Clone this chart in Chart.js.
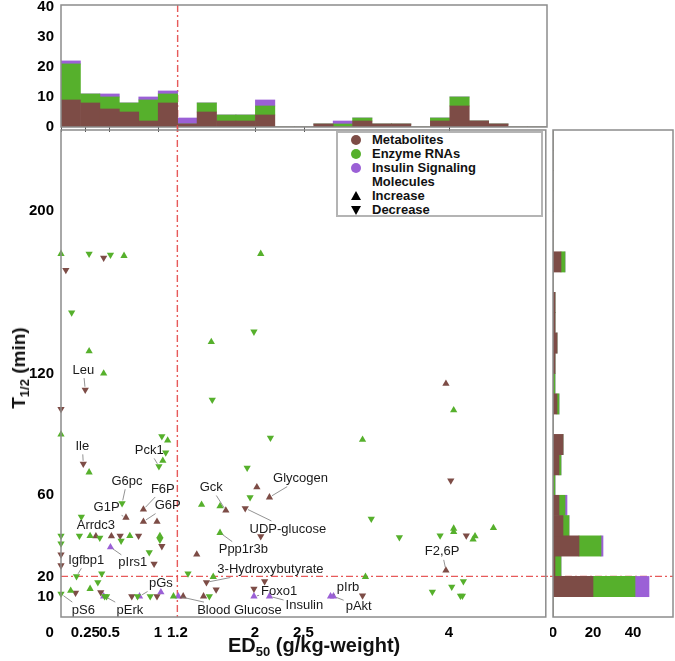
<!DOCTYPE html>
<html>
<head>
<meta charset="utf-8">
<script src="https://cdn.jsdelivr.net/npm/chart.js@4.4.1/dist/chart.umd.min.js"></script>
<style>
  html,body{margin:0;padding:0;background:#fff;}
  body{width:675px;height:661px;position:relative;overflow:hidden;font-family:"Liberation Sans",Arial,sans-serif;color:#111;}
  .pane{position:absolute;}
  #legend{position:absolute;left:336px;top:131px;width:207px;height:86px;box-sizing:border-box;border:2px solid #b4b4b4;background:#fff;font-weight:bold;font-size:13px;line-height:14px;}
  #legend div{position:relative;height:14px;padding-left:34px;white-space:nowrap;}
  .dot{position:absolute;left:13px;top:2px;width:10px;height:10px;border-radius:50%;}
  .up,.down{position:absolute;left:13px;width:0;height:0;border-left:5px solid transparent;border-right:5px solid transparent;}
  .up{top:2px;border-bottom:9px solid #000;}
  .down{top:3px;border-top:9px solid #000;}
  #xtitle{position:absolute;left:228px;top:633px;font-weight:bold;font-size:20px;line-height:24px;white-space:nowrap;}
  #ytitle{position:absolute;left:19px;top:368px;font-weight:bold;font-size:19px;line-height:22px;white-space:nowrap;transform:translate(-50%,-50%) rotate(-90deg);}
  sub{font-size:13px;vertical-align:-4px;line-height:0;}
</style>
</head>
<body>
<div class="pane" style="left:0;top:0;"><canvas id="topHist" width="550" height="135"></canvas></div>
<div class="pane" style="left:0;top:125px;"><canvas id="main" width="550" height="536"></canvas></div>
<div class="pane" style="left:550px;top:125px;"><canvas id="rightHist" width="125" height="536"></canvas></div>
<div id="legend">
  <div><span class="dot" style="background:rgb(125,76,70)"></span>Metabolites</div>
  <div><span class="dot" style="background:rgb(86,176,44)"></span>Enzyme RNAs</div>
  <div><span class="dot" style="background:rgb(155,96,214)"></span>Insulin Signaling</div>
  <div>Molecules</div>
  <div><span class="up"></span>Increase</div>
  <div><span class="down"></span>Decrease</div>
</div>
<div id="xtitle">ED<sub>50</sub> (g/kg-weight)</div>
<div id="ytitle">T<sub>1/2</sub> (min)</div>
<script>
// Daten
const xTicks = [0, 0.25, 0.5, 1, 1.2, 2, 2.5, 4];
const yTicks = [10, 20, 60, 120, 200];
const edCut = 1.2;
const tCut = 20;

// scatter: [ED50, T1/2]
const metabolitesUp = [[3.97,115],[2.02,64],[2.15,59],[1.70,52.5],[0.85,53],[0.85,47],[0.99,47],[0.67,49],
  [0.36,39.8],[0.52,39.8],[1.40,30.8],[3.97,23],[1.26,10.2],[1.47,10.2]];
const metabolitesDown = [[0.05,171],[0.44,177],[0.25,112],[0,102.5],[0.23,75.5],[4.02,67.2],[1.90,53.6],
  [0.61,40],[0.80,40],[2.06,39.8],[4.18,40.1],[1.04,34.9],[0,30.8],[0,25.4],[0.96,26.2],[1.50,17.1],
  [0.15,11.9],[0.41,12.2],[0.73,10.2],[0.99,10.2],[1.60,13.5],[2.10,17.6],[1.99,13.9],[3.11,10.6]];
const enzymeUp = [[0,179],[0.65,178],[2.06,179],[0.29,131],[0.44,120],[1.55,135.6],[4.05,101.9],[0,90],
  [1.10,87],[1.05,77],[3.11,87.4],[0.29,71.3],[1.45,55.4],[1.64,54.6],[0.30,40],[0.71,40],[1.02,40],
  [1.64,41.5],[4.46,43.9],[4.05,43.6],[4.05,42],[4.27,39.8],[4.25,38.2],[1.57,19.8],[3.14,19.8],
  [0.30,13.9],[0.10,13],[1.16,10.2]];
const enzymeDown = [[0.29,179],[0.51,178.5],[0.11,150],[1.99,140.6],[1.56,107],[1.04,89],[1.08,81],
  [1.01,74.3],[2.16,88.3],[1.92,73.5],[1.95,59],[0.63,56],[0.21,49.4],[0,40],[0.19,40],[0.40,39],
  [0.62,37.5],[1.02,38],[0,36.2],[0.91,31.9],[3.20,48.4],[3.49,39.3],[3.91,40.1],[0.16,20],[0.42,21.4],
  [1.31,21.4],[0.38,17.1],[0,11.4],[0.45,10.2],[0.47,10.2],[0.79,10.2],[0.92,10.2],[1.53,10.2],
  [4.15,17.6],[4.03,14.9],[3.83,12.4],[4.12,10.4],[4.14,10.4]];
const insulinUp = [[0.51,34.4],[0.44,10.2],[0.81,10.2],[1.03,12.2],[1.21,10.2],[1.99,10.2],[2.15,10.2],
  [2.78,10.2],[2.81,10.2]];

// Beschriftungen: Name, markierter Punkt, Textposition (Dateneinheiten)
const labelNames = ['Leu','Ile','Pck1','G6pc','F6P','G6P','G1P','Arrdc3','pIrs1','Igfbp1','pS6','pErk','pGs',
  'Blood Glucose','Gck','Glycogen','UDP-glucose','Ppp1r3b','3-Hydroxybutyrate','Foxo1','Insulin','pIrb','pAkt','F2,6P'];
const labelPoints = [[0.25,112],[0.23,75.5],[1.01,74.3],[0.63,56],[0.85,53],[0.85,47],[0.67,49],[0.36,39.8],
  [0.51,34.4],[0.16,20],[0,11.4],[0.45,10.2],[0.81,10.2],[1.21,10.2],[1.70,52.5],[2.15,59],[1.90,53.6],
  [1.64,41.5],[1.50,17.1],[1.99,10.2],[2.15,10.2],[2.78,10.2],[2.81,10.2],[3.97,23]];
const labelSpots = [[0.23,121.7],[0.22,84.1],[0.91,82.1],[0.68,66.9],[1.05,63.1],[1.10,54.9],[0.47,53.8],
  [0.36,45.0],[0.74,26.7],[0.26,28.0],[0.23,3.4],[0.71,3.4],[1.03,16.5],[1.84,3.4],[1.55,63.8],[2.47,68.2],
  [2.34,43.4],[1.88,33.2],[2.16,23.4],[2.25,12.5],[2.51,5.7],[2.96,14.4],[3.07,5.4],[3.93,32.1]];

// Histogramm oben (Klassenbreite 0.2)
const topBins = [0.1,0.3,0.5,0.7,0.9,1.1,1.3,1.5,1.7,1.9,2.1,2.3,2.5,2.7,2.9,3.1,3.3,3.5,3.7,3.9,4.1,4.3,4.5,4.7,4.9];
const topMetabolites = [9,8,6,5,2,8,1,5,2,2,4,0,0,1,0,2,1,1,0,2,7,2,1,0,0];
const topEnzyme      = [12,3,4,3,7,3,0,3,2,2,3,0,0,0,1,1,0,0,0,1,3,0,0,0,0];
const topInsulin     = [1,0,1,0,1,1,2,0,0,0,2,0,0,0,1,0,0,0,0,0,0,0,0,0,0];
const topCountTicks = [0, 10, 20, 30, 40];

// Histogramm rechts (Klassenbreite 10 min)
const rightBins = [5,15,25,35,45,55,65,75,85,95,105,115,125,135,145,155,165,175,185,195,205,215,225,235];
const rightMetabolites = [0,20,1,13,5,3,0,3,5,0,2,0,1,2,1,1,0,4,0,0,0,0,0,0];
const rightEnzyme      = [0,21,3,11,3,3,1,1,0,0,1,1,0,0,0,0,0,2,0,0,0,0,0,0];
const rightInsulin     = [0,7,0,1,0,1,0,0,0,0,0,0,0,0,0,0,0,0,0,0,0,0,0,0];
const rightCountTicks = [0, 20, 40];

// Farben
const brown = 'rgb(125,76,70)', green = 'rgb(86,176,44)', purple = 'rgb(155,96,214)';
const redLine = 'rgba(228,72,72,0.9)';
const tickFont = {family:'"Liberation Sans", Arial, sans-serif', size:15, weight:'bold'};

Chart.defaults.animation = false;
Chart.defaults.font.family = '"Liberation Sans", Arial, sans-serif';

const frame = {
  id:'frame',
  afterDraw(c){
    const a = c.chartArea, ctx = c.ctx;
    ctx.save();
    ctx.strokeStyle = '#8c8c8c';
    ctx.lineWidth = 1.5;
    ctx.strokeRect(a.left, a.top, a.right - a.left, a.bottom - a.top);
    ctx.restore();
  }
};

const cutLines = {
  id:'cutLines',
  beforeDatasetsDraw(c, args, o){
    const ctx = c.ctx, a = c.chartArea;
    ctx.save();
    ctx.strokeStyle = redLine;
    ctx.lineWidth = 1.4;
    ctx.setLineDash([7,3,2,3]);
    if (o.x !== undefined) {
      const px = c.scales.x.getPixelForValue(o.x);
      ctx.beginPath();
      ctx.moveTo(px, o.extendUp ? 0 : a.top);
      ctx.lineTo(px, o.extendDown ? c.height : a.bottom);
      ctx.stroke();
    }
    if (o.y !== undefined) {
      const py = c.scales.y.getPixelForValue(o.y);
      ctx.beginPath();
      ctx.moveTo(o.extendLeft ? 0 : a.left, py);
      ctx.lineTo(o.extendRight ? c.width : a.right, py);
      ctx.stroke();
    }
    ctx.restore();
  }
};

const annot = {
  id:'annot',
  afterDatasetsDraw(c){
    const xs = c.scales.x, ys = c.scales.y, ctx = c.ctx;
    ctx.save();
    ctx.font = '13px "Liberation Sans", Arial, sans-serif';
    ctx.textAlign = 'center';
    ctx.textBaseline = 'middle';
    labelNames.forEach((name, i) => {
      const px = xs.getPixelForValue(labelPoints[i][0]), py = ys.getPixelForValue(labelPoints[i][1]);
      const lx = xs.getPixelForValue(labelSpots[i][0]), ly = ys.getPixelForValue(labelSpots[i][1]);
      const hw = ctx.measureText(name).width / 2 + 2, hh = 8;
      const dx = lx - px, dy = ly - py;
      const s = Math.min(dx ? hw / Math.abs(dx) : Infinity, dy ? hh / Math.abs(dy) : Infinity);
      if (s < 1) {
        const len = Math.hypot(dx, dy);
        ctx.strokeStyle = '#777';
        ctx.lineWidth = 0.8;
        ctx.beginPath();
        ctx.moveTo(px + dx / len * 3, py + dy / len * 3);
        ctx.lineTo(lx - dx * s, ly - dy * s);
        ctx.stroke();
      }
      ctx.fillStyle = '#1a1a1a';
      ctx.fillText(name, lx, ly);
    });
    ctx.restore();
  }
};

function marks(points, color, up) {
  return {
    data: points.map(p => ({x:p[0], y:p[1]})),
    pointStyle:'triangle', rotation: up ? 0 : 180,
    pointRadius:4.2, backgroundColor:color, borderColor:color, borderWidth:0, clip:false
  };
}

function fixedTicks(list) { return s => { s.ticks = list.map(v => ({value:v})); }; }
// feste Achsenbreite, ohne Zusatzabstand für Randbeschriftungen
function fitSize(key, size) {
  return s => { s[key] = size; s.paddingTop = 0; s.paddingBottom = 0; s.paddingLeft = 0; s.paddingRight = 0; };
}
const noGrid = {display:false, drawTicks:false};

// Streudiagramm
new Chart(document.getElementById('main'), {
  type:'scatter',
  data:{datasets:[
    marks(enzymeUp, green, true), marks(enzymeDown, green, false),
    marks(metabolitesUp, brown, true), marks(metabolitesDown, brown, false),
    marks(insulinUp, purple, true)
  ]},
  options:{
    responsive:false,
    layout:{padding:{top:5, right:3, left:0, bottom:0}},
    plugins:{legend:{display:false}, tooltip:{enabled:false},
      cutLines:{x:edCut, y:tCut, extendUp:true, extendRight:true}},
    scales:{
      x:{type:'linear', min:0, max:5, afterBuildTicks:fixedTicks(xTicks),
        afterFit:fitSize('height', 44),
        grid:noGrid, border:{display:false},
        // die 0 steht im Original etwas links von der Achse
        ticks:{font:tickFont, color:'#000', padding:7, autoSkip:false, maxRotation:0,
          callback:v => v === 0 ? '0\u2003\u2002' : String(v)}},
      y:{type:'linear', min:0, max:240, afterBuildTicks:fixedTicks(yTicks),
        afterFit:fitSize('width', 61),
        grid:noGrid, border:{display:false},
        ticks:{font:tickFont, color:'#000', padding:7, callback:v => String(v)}}
    }
  },
  plugins:[cutLines, annot, frame]
});

function bars(bins, counts, color, horiz) {
  return {
    data: bins.map((b, i) => horiz ? {x:counts[i], y:b} : {x:b, y:counts[i]}),
    backgroundColor:color, borderWidth:0, barPercentage:1, categoryPercentage:1
  };
}

// Histogramm ED50
new Chart(document.getElementById('topHist'), {
  type:'bar',
  data:{datasets:[
    bars(topBins, topMetabolites, brown), bars(topBins, topEnzyme, green), bars(topBins, topInsulin, purple)
  ]},
  options:{
    responsive:false,
    layout:{padding:{top:5, right:3, left:0, bottom:0}},
    plugins:{legend:{display:false}, tooltip:{enabled:false}, cutLines:{x:edCut, extendDown:true}},
    scales:{
      x:{type:'linear', min:0, max:5, stacked:true, offset:false,
        afterBuildTicks:fixedTicks([0, 0.25, 0.5, 1, 2, 2.5, 4]),
        afterFit:fitSize('height', 8),
        grid:{display:true, offset:false, drawOnChartArea:false, drawTicks:true, tickLength:5, color:'#555'},
        border:{display:false}, ticks:{display:false}},
      y:{type:'linear', min:0, max:40.6, stacked:true, afterBuildTicks:fixedTicks(topCountTicks),
        afterFit:fitSize('width', 61),
        grid:noGrid, border:{display:false},
        ticks:{font:tickFont, color:'#000', padding:7}}
    }
  },
  plugins:[cutLines, frame]
});

// Histogramm T1/2
new Chart(document.getElementById('rightHist'), {
  type:'bar',
  data:{datasets:[
    bars(rightBins, rightMetabolites, brown, true), bars(rightBins, rightEnzyme, green, true),
    bars(rightBins, rightInsulin, purple, true)
  ]},
  options:{
    indexAxis:'y',
    responsive:false,
    layout:{padding:{top:5, right:2, left:3, bottom:0}},
    plugins:{legend:{display:false}, tooltip:{enabled:false}, cutLines:{y:tCut, extendLeft:true}},
    scales:{
      x:{type:'linear', min:0, max:60, stacked:true, afterBuildTicks:fixedTicks(rightCountTicks),
        afterFit:fitSize('height', 44),
        grid:noGrid, border:{display:false},
        ticks:{font:tickFont, color:'#000', padding:7}},
      y:{type:'linear', min:0, max:240, stacked:true, offset:false,
        afterBuildTicks:fixedTicks([10, 60, 120, 200]),
        afterFit:fitSize('width', 0),
        grid:{display:false, offset:false, drawTicks:false}, border:{display:false}, ticks:{display:false}}
    }
  },
  plugins:[cutLines, frame]
});
</script>
</body>
</html>
